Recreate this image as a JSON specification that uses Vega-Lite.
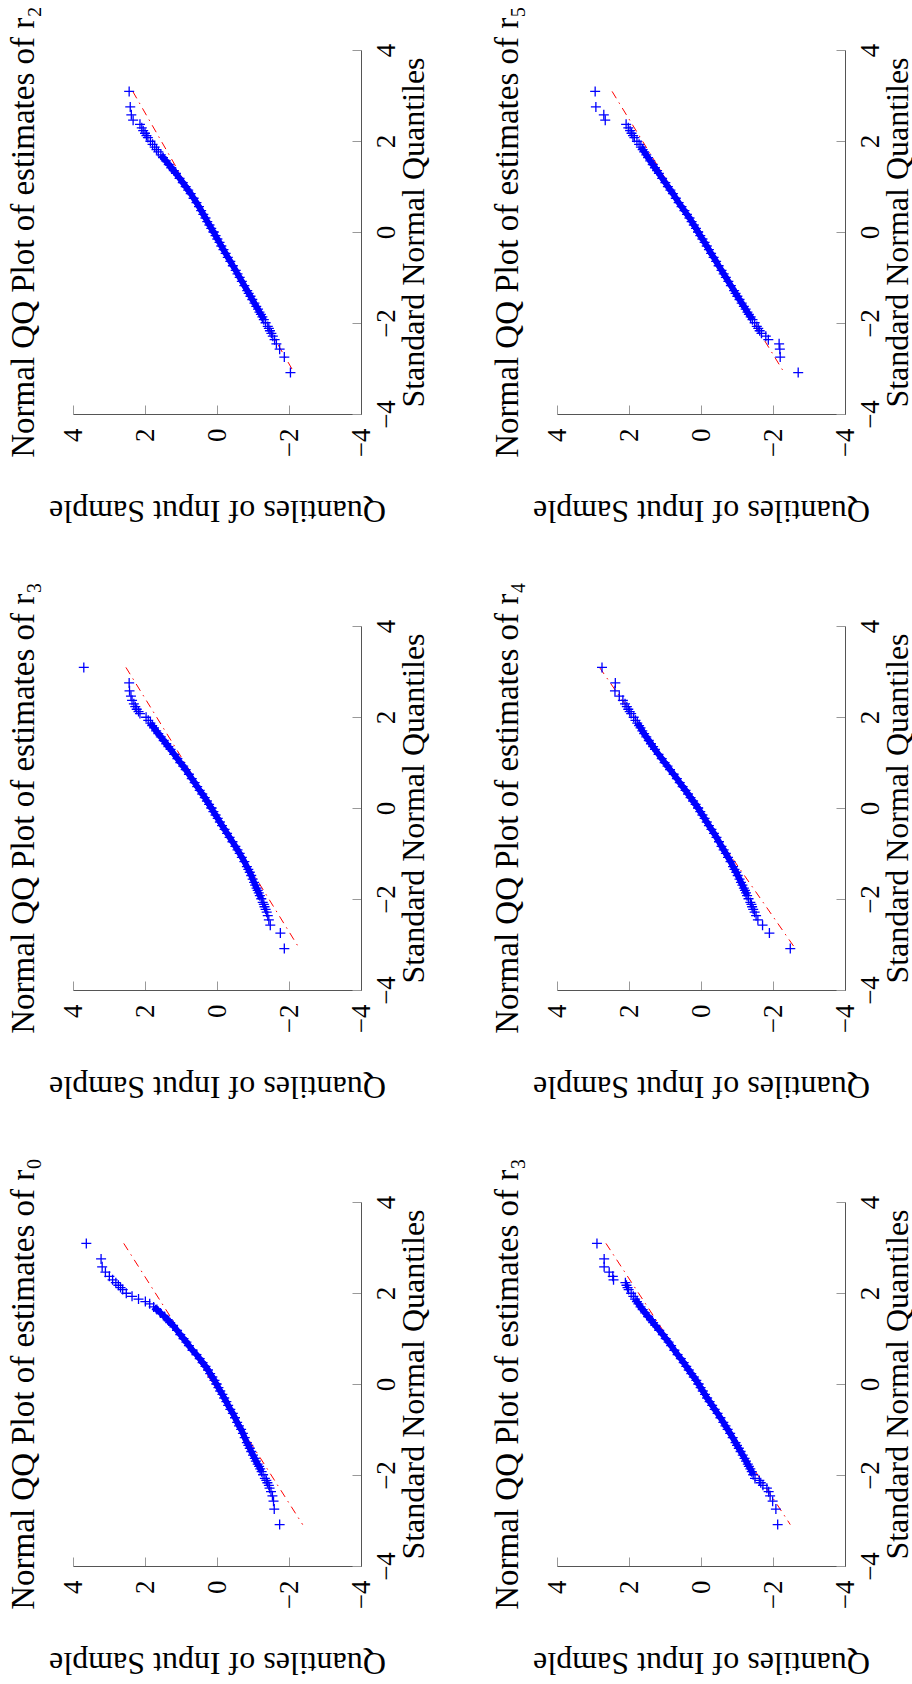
{
"$schema": "https://vega.github.io/schema/vega-lite/v6.json",
"padding": {"left": 7, "top": 6, "right": 4, "bottom": 6},
"background": "#ffffff",
"datasets": {
"ref": [
{"p":"r2","z":-3.09,"s":-2.14},{"p":"r2","z":3.09,"s":2.34},
{"p":"r5","z":-3.09,"s":-2.31},{"p":"r5","z":3.09,"s":2.47},
{"p":"r3","z":-3.09,"s":-2.29},{"p":"r3","z":3.09,"s":2.53},
{"p":"r4","z":-3.09,"s":-2.62},{"p":"r4","z":3.09,"s":2.82},
{"p":"r0","z":-3.09,"s":-2.38},{"p":"r0","z":3.09,"s":2.59},
{"p":"r3b","z":-3.09,"s":-2.48},{"p":"r3b","z":3.09,"s":2.64}
],
"pts": [
{"p":"r2","z":3.09,"s":2.44},{"p":"r2","z":2.748,"s":2.41},{"p":"r2","z":2.576,"s":2.38},{"p":"r2","z":2.457,"s":2.33},{"p":"r2","z":2.366,"s":2.14},{"p":"r2","z":2.29,"s":2.09},{"p":"r2","z":2.226,"s":2.05},{"p":"r2","z":2.17,"s":2.0},{"p":"r2","z":2.12,"s":1.96},{"p":"r2","z":2.075,"s":1.92},{"p":"r2","z":1.995,"s":1.85},{"p":"r2","z":1.927,"s":1.79},{"p":"r2","z":1.866,"s":1.73},{"p":"r2","z":1.812,"s":1.68},{"p":"r2","z":1.762,"s":1.63},{"p":"r2","z":1.695,"s":1.56},{"p":"r2","z":1.635,"s":1.5},{"p":"r2","z":1.563,"s":1.42},{"p":"r2","z":1.483,"s":1.34},{"p":"r2","z":1.412,"s":1.27},{"p":"r2","z":1.347,"s":1.2},{"p":"r2","z":1.287,"s":1.14},{"p":"r2","z":1.18,"s":1.04},{"p":"r2","z":1.085,"s":0.95},{"p":"r2","z":0.999,"s":0.87},{"p":"r2","z":0.919,"s":0.8},{"p":"r2","z":0.845,"s":0.73},{"p":"r2","z":0.742,"s":0.65},{"p":"r2","z":0.646,"s":0.57},{"p":"r2","z":0.556,"s":0.5},{"p":"r2","z":0.47,"s":0.44},{"p":"r2","z":0.388,"s":0.38},{"p":"r2","z":0.308,"s":0.32},{"p":"r2","z":0.23,"s":0.27},{"p":"r2","z":0.154,"s":0.21},{"p":"r2","z":0.078,"s":0.16},{"p":"r2","z":0.003,"s":0.1},
{"p":"r2","z":-0.003,"s":0.09},{"p":"r2","z":-0.078,"s":0.04},{"p":"r2","z":-0.154,"s":-0.01},{"p":"r2","z":-0.23,"s":-0.07},{"p":"r2","z":-0.308,"s":-0.12},{"p":"r2","z":-0.388,"s":-0.18},{"p":"r2","z":-0.47,"s":-0.24},{"p":"r2","z":-0.556,"s":-0.3},{"p":"r2","z":-0.646,"s":-0.37},{"p":"r2","z":-0.742,"s":-0.44},{"p":"r2","z":-0.845,"s":-0.52},{"p":"r2","z":-0.919,"s":-0.57},{"p":"r2","z":-0.999,"s":-0.63},{"p":"r2","z":-1.085,"s":-0.69},{"p":"r2","z":-1.18,"s":-0.76},{"p":"r2","z":-1.287,"s":-0.84},{"p":"r2","z":-1.347,"s":-0.88},{"p":"r2","z":-1.412,"s":-0.93},{"p":"r2","z":-1.483,"s":-0.98},{"p":"r2","z":-1.563,"s":-1.04},{"p":"r2","z":-1.635,"s":-1.09},{"p":"r2","z":-1.695,"s":-1.14},{"p":"r2","z":-1.762,"s":-1.18},{"p":"r2","z":-1.812,"s":-1.22},{"p":"r2","z":-1.866,"s":-1.26},{"p":"r2","z":-1.927,"s":-1.3},{"p":"r2","z":-1.995,"s":-1.35},{"p":"r2","z":-2.075,"s":-1.41},{"p":"r2","z":-2.12,"s":-1.44},{"p":"r2","z":-2.17,"s":-1.47},{"p":"r2","z":-2.226,"s":-1.51},{"p":"r2","z":-2.29,"s":-1.55},{"p":"r2","z":-2.366,"s":-1.6},{"p":"r2","z":-2.457,"s":-1.65},{"p":"r2","z":-2.576,"s":-1.74},{"p":"r2","z":-2.748,"s":-1.87},{"p":"r2","z":-3.09,"s":-2.04},

{"p":"r5","z":3.09,"s":2.94},{"p":"r5","z":2.748,"s":2.92},{"p":"r5","z":2.576,"s":2.7},{"p":"r5","z":2.457,"s":2.66},{"p":"r5","z":2.366,"s":2.08},{"p":"r5","z":2.29,"s":2.02},{"p":"r5","z":2.226,"s":1.97},{"p":"r5","z":2.17,"s":1.93},{"p":"r5","z":2.12,"s":1.89},{"p":"r5","z":2.075,"s":1.85},{"p":"r5","z":1.995,"s":1.78},{"p":"r5","z":1.927,"s":1.72},{"p":"r5","z":1.866,"s":1.67},{"p":"r5","z":1.812,"s":1.62},{"p":"r5","z":1.762,"s":1.58},{"p":"r5","z":1.695,"s":1.52},{"p":"r5","z":1.635,"s":1.47},{"p":"r5","z":1.563,"s":1.41},{"p":"r5","z":1.483,"s":1.34},{"p":"r5","z":1.412,"s":1.28},{"p":"r5","z":1.347,"s":1.22},{"p":"r5","z":1.287,"s":1.17},{"p":"r5","z":1.18,"s":1.08},{"p":"r5","z":1.085,"s":0.99},{"p":"r5","z":0.999,"s":0.92},{"p":"r5","z":0.919,"s":0.85},{"p":"r5","z":0.845,"s":0.78},{"p":"r5","z":0.742,"s":0.7},{"p":"r5","z":0.646,"s":0.62},{"p":"r5","z":0.556,"s":0.54},{"p":"r5","z":0.47,"s":0.46},{"p":"r5","z":0.388,"s":0.39},{"p":"r5","z":0.308,"s":0.32},{"p":"r5","z":0.23,"s":0.26},{"p":"r5","z":0.154,"s":0.2},{"p":"r5","z":0.078,"s":0.14},{"p":"r5","z":0.003,"s":0.08},
{"p":"r5","z":-0.003,"s":0.08},{"p":"r5","z":-0.078,"s":0.02},{"p":"r5","z":-0.154,"s":-0.04},{"p":"r5","z":-0.23,"s":-0.1},{"p":"r5","z":-0.308,"s":-0.16},{"p":"r5","z":-0.388,"s":-0.22},{"p":"r5","z":-0.47,"s":-0.28},{"p":"r5","z":-0.556,"s":-0.35},{"p":"r5","z":-0.646,"s":-0.42},{"p":"r5","z":-0.742,"s":-0.49},{"p":"r5","z":-0.845,"s":-0.57},{"p":"r5","z":-0.919,"s":-0.63},{"p":"r5","z":-0.999,"s":-0.69},{"p":"r5","z":-1.085,"s":-0.76},{"p":"r5","z":-1.18,"s":-0.83},{"p":"r5","z":-1.287,"s":-0.92},{"p":"r5","z":-1.347,"s":-0.96},{"p":"r5","z":-1.412,"s":-1.01},{"p":"r5","z":-1.483,"s":-1.07},{"p":"r5","z":-1.563,"s":-1.13},{"p":"r5","z":-1.635,"s":-1.19},{"p":"r5","z":-1.695,"s":-1.24},{"p":"r5","z":-1.762,"s":-1.29},{"p":"r5","z":-1.812,"s":-1.33},{"p":"r5","z":-1.866,"s":-1.38},{"p":"r5","z":-1.927,"s":-1.43},{"p":"r5","z":-1.995,"s":-1.49},{"p":"r5","z":-2.075,"s":-1.55},{"p":"r5","z":-2.12,"s":-1.59},{"p":"r5","z":-2.17,"s":-1.63},{"p":"r5","z":-2.226,"s":-1.68},{"p":"r5","z":-2.29,"s":-1.8},{"p":"r5","z":-2.366,"s":-1.87},{"p":"r5","z":-2.457,"s":-2.17},{"p":"r5","z":-2.576,"s":-2.19},{"p":"r5","z":-2.748,"s":-2.2},{"p":"r5","z":-3.09,"s":-2.7},

{"p":"r3","z":3.09,"s":3.7},{"p":"r3","z":2.748,"s":2.44},{"p":"r3","z":2.576,"s":2.43},{"p":"r3","z":2.457,"s":2.39},{"p":"r3","z":2.366,"s":2.36},{"p":"r3","z":2.29,"s":2.31},{"p":"r3","z":2.226,"s":2.27},{"p":"r3","z":2.17,"s":2.23},{"p":"r3","z":2.12,"s":2.18},{"p":"r3","z":2.075,"s":2.14},{"p":"r3","z":1.995,"s":1.97},{"p":"r3","z":1.927,"s":1.91},{"p":"r3","z":1.866,"s":1.85},{"p":"r3","z":1.812,"s":1.8},{"p":"r3","z":1.762,"s":1.75},{"p":"r3","z":1.695,"s":1.69},{"p":"r3","z":1.635,"s":1.63},{"p":"r3","z":1.563,"s":1.56},{"p":"r3","z":1.483,"s":1.48},{"p":"r3","z":1.412,"s":1.41},{"p":"r3","z":1.347,"s":1.35},{"p":"r3","z":1.287,"s":1.29},{"p":"r3","z":1.18,"s":1.19},{"p":"r3","z":1.085,"s":1.1},{"p":"r3","z":0.999,"s":1.02},{"p":"r3","z":0.919,"s":0.94},{"p":"r3","z":0.845,"s":0.87},{"p":"r3","z":0.742,"s":0.78},{"p":"r3","z":0.646,"s":0.7},{"p":"r3","z":0.556,"s":0.62},{"p":"r3","z":0.47,"s":0.55},{"p":"r3","z":0.388,"s":0.48},{"p":"r3","z":0.308,"s":0.41},{"p":"r3","z":0.23,"s":0.34},{"p":"r3","z":0.154,"s":0.28},{"p":"r3","z":0.078,"s":0.22},{"p":"r3","z":0.003,"s":0.16},
{"p":"r3","z":-0.003,"s":0.15},{"p":"r3","z":-0.078,"s":0.1},{"p":"r3","z":-0.154,"s":0.04},{"p":"r3","z":-0.23,"s":-0.02},{"p":"r3","z":-0.308,"s":-0.08},{"p":"r3","z":-0.388,"s":-0.14},{"p":"r3","z":-0.47,"s":-0.21},{"p":"r3","z":-0.556,"s":-0.28},{"p":"r3","z":-0.646,"s":-0.35},{"p":"r3","z":-0.742,"s":-0.43},{"p":"r3","z":-0.845,"s":-0.51},{"p":"r3","z":-0.919,"s":-0.57},{"p":"r3","z":-0.999,"s":-0.63},{"p":"r3","z":-1.085,"s":-0.69},{"p":"r3","z":-1.18,"s":-0.76},{"p":"r3","z":-1.287,"s":-0.83},{"p":"r3","z":-1.347,"s":-0.87},{"p":"r3","z":-1.412,"s":-0.91},{"p":"r3","z":-1.483,"s":-0.95},{"p":"r3","z":-1.563,"s":-0.99},{"p":"r3","z":-1.635,"s":-1.03},{"p":"r3","z":-1.695,"s":-1.06},{"p":"r3","z":-1.762,"s":-1.1},{"p":"r3","z":-1.812,"s":-1.13},{"p":"r3","z":-1.866,"s":-1.16},{"p":"r3","z":-1.927,"s":-1.19},{"p":"r3","z":-1.995,"s":-1.23},{"p":"r3","z":-2.075,"s":-1.27},{"p":"r3","z":-2.12,"s":-1.3},{"p":"r3","z":-2.17,"s":-1.32},{"p":"r3","z":-2.226,"s":-1.35},{"p":"r3","z":-2.29,"s":-1.38},{"p":"r3","z":-2.366,"s":-1.41},{"p":"r3","z":-2.457,"s":-1.44},{"p":"r3","z":-2.576,"s":-1.48},{"p":"r3","z":-2.748,"s":-1.76},{"p":"r3","z":-3.09,"s":-1.87},

{"p":"r4","z":3.09,"s":2.75},{"p":"r4","z":2.748,"s":2.38},{"p":"r4","z":2.576,"s":2.39},{"p":"r4","z":2.457,"s":2.27},{"p":"r4","z":2.366,"s":2.17},{"p":"r4","z":2.29,"s":2.11},{"p":"r4","z":2.226,"s":2.06},{"p":"r4","z":2.17,"s":2.02},{"p":"r4","z":2.12,"s":1.98},{"p":"r4","z":2.075,"s":1.94},{"p":"r4","z":1.995,"s":1.87},{"p":"r4","z":1.927,"s":1.82},{"p":"r4","z":1.866,"s":1.77},{"p":"r4","z":1.812,"s":1.72},{"p":"r4","z":1.762,"s":1.68},{"p":"r4","z":1.695,"s":1.63},{"p":"r4","z":1.635,"s":1.58},{"p":"r4","z":1.563,"s":1.52},{"p":"r4","z":1.483,"s":1.45},{"p":"r4","z":1.412,"s":1.39},{"p":"r4","z":1.347,"s":1.33},{"p":"r4","z":1.287,"s":1.28},{"p":"r4","z":1.18,"s":1.18},{"p":"r4","z":1.085,"s":1.09},{"p":"r4","z":0.999,"s":1.01},{"p":"r4","z":0.919,"s":0.93},{"p":"r4","z":0.845,"s":0.86},{"p":"r4","z":0.742,"s":0.76},{"p":"r4","z":0.646,"s":0.67},{"p":"r4","z":0.556,"s":0.59},{"p":"r4","z":0.47,"s":0.51},{"p":"r4","z":0.388,"s":0.43},{"p":"r4","z":0.308,"s":0.36},{"p":"r4","z":0.23,"s":0.29},{"p":"r4","z":0.154,"s":0.22},{"p":"r4","z":0.078,"s":0.15},{"p":"r4","z":0.003,"s":0.08},
{"p":"r4","z":-0.003,"s":0.08},{"p":"r4","z":-0.078,"s":0.02},{"p":"r4","z":-0.154,"s":-0.04},{"p":"r4","z":-0.23,"s":-0.1},{"p":"r4","z":-0.308,"s":-0.16},{"p":"r4","z":-0.388,"s":-0.22},{"p":"r4","z":-0.47,"s":-0.29},{"p":"r4","z":-0.556,"s":-0.36},{"p":"r4","z":-0.646,"s":-0.43},{"p":"r4","z":-0.742,"s":-0.5},{"p":"r4","z":-0.845,"s":-0.57},{"p":"r4","z":-0.919,"s":-0.63},{"p":"r4","z":-0.999,"s":-0.69},{"p":"r4","z":-1.085,"s":-0.75},{"p":"r4","z":-1.18,"s":-0.82},{"p":"r4","z":-1.287,"s":-0.89},{"p":"r4","z":-1.347,"s":-0.93},{"p":"r4","z":-1.412,"s":-0.98},{"p":"r4","z":-1.483,"s":-1.02},{"p":"r4","z":-1.563,"s":-1.07},{"p":"r4","z":-1.635,"s":-1.11},{"p":"r4","z":-1.695,"s":-1.15},{"p":"r4","z":-1.762,"s":-1.19},{"p":"r4","z":-1.812,"s":-1.22},{"p":"r4","z":-1.866,"s":-1.25},{"p":"r4","z":-1.927,"s":-1.28},{"p":"r4","z":-1.995,"s":-1.32},{"p":"r4","z":-2.075,"s":-1.37},{"p":"r4","z":-2.12,"s":-1.4},{"p":"r4","z":-2.17,"s":-1.42},{"p":"r4","z":-2.226,"s":-1.45},{"p":"r4","z":-2.29,"s":-1.49},{"p":"r4","z":-2.366,"s":-1.53},{"p":"r4","z":-2.457,"s":-1.58},{"p":"r4","z":-2.576,"s":-1.71},{"p":"r4","z":-2.748,"s":-1.9},{"p":"r4","z":-3.09,"s":-2.48},

{"p":"r0","z":3.09,"s":3.63},{"p":"r0","z":2.748,"s":3.22},{"p":"r0","z":2.576,"s":3.19},{"p":"r0","z":2.457,"s":3.1},{"p":"r0","z":2.366,"s":2.99},{"p":"r0","z":2.29,"s":2.9},{"p":"r0","z":2.226,"s":2.81},{"p":"r0","z":2.17,"s":2.74},{"p":"r0","z":2.12,"s":2.68},{"p":"r0","z":2.075,"s":2.62},{"p":"r0","z":1.995,"s":2.52},{"p":"r0","z":1.927,"s":2.36},{"p":"r0","z":1.866,"s":2.18},{"p":"r0","z":1.812,"s":1.99},{"p":"r0","z":1.762,"s":1.87},{"p":"r0","z":1.695,"s":1.76},{"p":"r0","z":1.635,"s":1.67},{"p":"r0","z":1.563,"s":1.57},{"p":"r0","z":1.483,"s":1.46},{"p":"r0","z":1.412,"s":1.37},{"p":"r0","z":1.347,"s":1.3},{"p":"r0","z":1.287,"s":1.22},{"p":"r0","z":1.18,"s":1.11},{"p":"r0","z":1.085,"s":1.02},{"p":"r0","z":0.999,"s":0.93},{"p":"r0","z":0.919,"s":0.85},{"p":"r0","z":0.845,"s":0.78},{"p":"r0","z":0.742,"s":0.68},{"p":"r0","z":0.646,"s":0.57},{"p":"r0","z":0.556,"s":0.48},{"p":"r0","z":0.47,"s":0.4},{"p":"r0","z":0.388,"s":0.32},{"p":"r0","z":0.308,"s":0.25},{"p":"r0","z":0.23,"s":0.19},{"p":"r0","z":0.154,"s":0.13},{"p":"r0","z":0.078,"s":0.07},{"p":"r0","z":0.003,"s":0.02},
{"p":"r0","z":-0.003,"s":0.01},{"p":"r0","z":-0.078,"s":-0.04},{"p":"r0","z":-0.154,"s":-0.09},{"p":"r0","z":-0.23,"s":-0.15},{"p":"r0","z":-0.308,"s":-0.2},{"p":"r0","z":-0.388,"s":-0.26},{"p":"r0","z":-0.47,"s":-0.31},{"p":"r0","z":-0.556,"s":-0.37},{"p":"r0","z":-0.646,"s":-0.44},{"p":"r0","z":-0.742,"s":-0.5},{"p":"r0","z":-0.845,"s":-0.56},{"p":"r0","z":-0.919,"s":-0.61},{"p":"r0","z":-0.999,"s":-0.67},{"p":"r0","z":-1.085,"s":-0.72},{"p":"r0","z":-1.18,"s":-0.77},{"p":"r0","z":-1.287,"s":-0.83},{"p":"r0","z":-1.347,"s":-0.87},{"p":"r0","z":-1.412,"s":-0.91},{"p":"r0","z":-1.483,"s":-0.95},{"p":"r0","z":-1.563,"s":-1.0},{"p":"r0","z":-1.635,"s":-1.05},{"p":"r0","z":-1.695,"s":-1.08},{"p":"r0","z":-1.762,"s":-1.13},{"p":"r0","z":-1.812,"s":-1.17},{"p":"r0","z":-1.866,"s":-1.2},{"p":"r0","z":-1.927,"s":-1.24},{"p":"r0","z":-1.995,"s":-1.28},{"p":"r0","z":-2.075,"s":-1.33},{"p":"r0","z":-2.12,"s":-1.37},{"p":"r0","z":-2.17,"s":-1.4},{"p":"r0","z":-2.226,"s":-1.44},{"p":"r0","z":-2.29,"s":-1.46},{"p":"r0","z":-2.366,"s":-1.5},{"p":"r0","z":-2.457,"s":-1.54},{"p":"r0","z":-2.576,"s":-1.57},{"p":"r0","z":-2.748,"s":-1.59},{"p":"r0","z":-3.09,"s":-1.74},

{"p":"r3b","z":3.09,"s":2.89},{"p":"r3b","z":2.748,"s":2.69},{"p":"r3b","z":2.576,"s":2.69},{"p":"r3b","z":2.457,"s":2.55},{"p":"r3b","z":2.366,"s":2.45},{"p":"r3b","z":2.29,"s":2.43},{"p":"r3b","z":2.226,"s":2.1},{"p":"r3b","z":2.17,"s":2.07},{"p":"r3b","z":2.12,"s":2.04},{"p":"r3b","z":2.075,"s":2.01},{"p":"r3b","z":1.995,"s":1.94},{"p":"r3b","z":1.927,"s":1.88},{"p":"r3b","z":1.866,"s":1.83},{"p":"r3b","z":1.812,"s":1.78},{"p":"r3b","z":1.762,"s":1.74},{"p":"r3b","z":1.695,"s":1.68},{"p":"r3b","z":1.635,"s":1.62},{"p":"r3b","z":1.563,"s":1.55},{"p":"r3b","z":1.483,"s":1.47},{"p":"r3b","z":1.412,"s":1.39},{"p":"r3b","z":1.347,"s":1.33},{"p":"r3b","z":1.287,"s":1.27},{"p":"r3b","z":1.18,"s":1.16},{"p":"r3b","z":1.085,"s":1.06},{"p":"r3b","z":0.999,"s":0.98},{"p":"r3b","z":0.919,"s":0.9},{"p":"r3b","z":0.845,"s":0.83},{"p":"r3b","z":0.742,"s":0.74},{"p":"r3b","z":0.646,"s":0.65},{"p":"r3b","z":0.556,"s":0.56},{"p":"r3b","z":0.47,"s":0.48},{"p":"r3b","z":0.388,"s":0.41},{"p":"r3b","z":0.308,"s":0.34},{"p":"r3b","z":0.23,"s":0.27},{"p":"r3b","z":0.154,"s":0.2},{"p":"r3b","z":0.078,"s":0.13},{"p":"r3b","z":0.003,"s":0.07},
{"p":"r3b","z":-0.003,"s":0.07},{"p":"r3b","z":-0.078,"s":0.01},{"p":"r3b","z":-0.154,"s":-0.05},{"p":"r3b","z":-0.23,"s":-0.11},{"p":"r3b","z":-0.308,"s":-0.17},{"p":"r3b","z":-0.388,"s":-0.24},{"p":"r3b","z":-0.47,"s":-0.31},{"p":"r3b","z":-0.556,"s":-0.38},{"p":"r3b","z":-0.646,"s":-0.46},{"p":"r3b","z":-0.742,"s":-0.54},{"p":"r3b","z":-0.845,"s":-0.62},{"p":"r3b","z":-0.919,"s":-0.68},{"p":"r3b","z":-0.999,"s":-0.74},{"p":"r3b","z":-1.085,"s":-0.81},{"p":"r3b","z":-1.18,"s":-0.88},{"p":"r3b","z":-1.287,"s":-0.96},{"p":"r3b","z":-1.347,"s":-1.0},{"p":"r3b","z":-1.412,"s":-1.05},{"p":"r3b","z":-1.483,"s":-1.1},{"p":"r3b","z":-1.563,"s":-1.16},{"p":"r3b","z":-1.635,"s":-1.21},{"p":"r3b","z":-1.695,"s":-1.25},{"p":"r3b","z":-1.762,"s":-1.3},{"p":"r3b","z":-1.812,"s":-1.33},{"p":"r3b","z":-1.866,"s":-1.37},{"p":"r3b","z":-1.927,"s":-1.41},{"p":"r3b","z":-1.995,"s":-1.45},{"p":"r3b","z":-2.075,"s":-1.5},{"p":"r3b","z":-2.12,"s":-1.62},{"p":"r3b","z":-2.17,"s":-1.66},{"p":"r3b","z":-2.226,"s":-1.72},{"p":"r3b","z":-2.29,"s":-1.83},{"p":"r3b","z":-2.366,"s":-1.88},{"p":"r3b","z":-2.457,"s":-1.92},{"p":"r3b","z":-2.576,"s":-1.99},{"p":"r3b","z":-2.748,"s":-2.08},{"p":"r3b","z":-3.09,"s":-2.13}
]
},
"columns": 2,
"spacing": {"row": 212, "column": 196},
"bounds": "flush",
"concat": [
{"title": "Normal QQ Plot of estimates of r₂", "width": 288, "height": 364, "layer": [
 {"data": {"name": "ref"}, "transform": [{"filter": "datum.p === 'r2'"}], "mark": {"type": "line", "color": "#ff0000", "strokeWidth": 1, "strokeDash": [8, 5, 1.5, 5]}, "encoding": {"x": {"field": "s", "type": "quantitative", "scale": {"domain": [-4, 4], "reverse": true, "nice": false, "zero": false}, "axis": {"title": "Quantiles of Input Sample", "orient": "bottom"}}, "y": {"field": "z", "type": "quantitative", "scale": {"domain": [-4, 4], "nice": false, "zero": false}, "axis": {"title": "Standard Normal Quantiles", "orient": "right"}}}},
 {"data": {"name": "pts"}, "transform": [{"filter": "datum.p === 'r2' && datum.z > -1.95 && datum.z < 1.75"}], "mark": {"type": "line", "color": "#0000ff", "strokeWidth": 6, "strokeCap": "butt"}, "encoding": {"x": {"field": "s", "type": "quantitative"}, "y": {"field": "z", "type": "quantitative"}, "order": {"field": "z", "type": "quantitative"}}},
 {"data": {"name": "pts"}, "transform": [{"filter": "datum.p === 'r2'"}], "mark": {"type": "point", "shape": "M-1,0L1,0M0,-1L0,1", "filled": false, "stroke": "#0000ff", "strokeWidth": 1.3, "size": 100, "opacity": 1}, "encoding": {"x": {"field": "s", "type": "quantitative"}, "y": {"field": "z", "type": "quantitative"}}}
]},
{"title": "Normal QQ Plot of estimates of r₅", "width": 288, "height": 364, "layer": [
 {"data": {"name": "ref"}, "transform": [{"filter": "datum.p === 'r5'"}], "mark": {"type": "line", "color": "#ff0000", "strokeWidth": 1, "strokeDash": [8, 5, 1.5, 5]}, "encoding": {"x": {"field": "s", "type": "quantitative", "scale": {"domain": [-4, 4], "reverse": true, "nice": false, "zero": false}, "axis": {"title": "Quantiles of Input Sample", "orient": "bottom"}}, "y": {"field": "z", "type": "quantitative", "scale": {"domain": [-4, 4], "nice": false, "zero": false}, "axis": {"title": "Standard Normal Quantiles", "orient": "right"}}}},
 {"data": {"name": "pts"}, "transform": [{"filter": "datum.p === 'r5' && datum.z > -1.95 && datum.z < 1.9"}], "mark": {"type": "line", "color": "#0000ff", "strokeWidth": 6, "strokeCap": "butt"}, "encoding": {"x": {"field": "s", "type": "quantitative"}, "y": {"field": "z", "type": "quantitative"}, "order": {"field": "z", "type": "quantitative"}}},
 {"data": {"name": "pts"}, "transform": [{"filter": "datum.p === 'r5'"}], "mark": {"type": "point", "shape": "M-1,0L1,0M0,-1L0,1", "filled": false, "stroke": "#0000ff", "strokeWidth": 1.3, "size": 100, "opacity": 1}, "encoding": {"x": {"field": "s", "type": "quantitative"}, "y": {"field": "z", "type": "quantitative"}}}
]},
{"title": "Normal QQ Plot of estimates of r₃", "width": 288, "height": 364, "layer": [
 {"data": {"name": "ref"}, "transform": [{"filter": "datum.p === 'r3'"}], "mark": {"type": "line", "color": "#ff0000", "strokeWidth": 1, "strokeDash": [8, 5, 1.5, 5]}, "encoding": {"x": {"field": "s", "type": "quantitative", "scale": {"domain": [-4, 4], "reverse": true, "nice": false, "zero": false}, "axis": {"title": "Quantiles of Input Sample", "orient": "bottom"}}, "y": {"field": "z", "type": "quantitative", "scale": {"domain": [-4, 4], "nice": false, "zero": false}, "axis": {"title": "Standard Normal Quantiles", "orient": "right"}}}},
 {"data": {"name": "pts"}, "transform": [{"filter": "datum.p === 'r3' && datum.z > -2.0 && datum.z < 1.9"}], "mark": {"type": "line", "color": "#0000ff", "strokeWidth": 6, "strokeCap": "butt"}, "encoding": {"x": {"field": "s", "type": "quantitative"}, "y": {"field": "z", "type": "quantitative"}, "order": {"field": "z", "type": "quantitative"}}},
 {"data": {"name": "pts"}, "transform": [{"filter": "datum.p === 'r3'"}], "mark": {"type": "point", "shape": "M-1,0L1,0M0,-1L0,1", "filled": false, "stroke": "#0000ff", "strokeWidth": 1.3, "size": 100, "opacity": 1}, "encoding": {"x": {"field": "s", "type": "quantitative"}, "y": {"field": "z", "type": "quantitative"}}}
]},
{"title": "Normal QQ Plot of estimates of r₄", "width": 288, "height": 364, "layer": [
 {"data": {"name": "ref"}, "transform": [{"filter": "datum.p === 'r4'"}], "mark": {"type": "line", "color": "#ff0000", "strokeWidth": 1, "strokeDash": [8, 5, 1.5, 5]}, "encoding": {"x": {"field": "s", "type": "quantitative", "scale": {"domain": [-4, 4], "reverse": true, "nice": false, "zero": false}, "axis": {"title": "Quantiles of Input Sample", "orient": "bottom"}}, "y": {"field": "z", "type": "quantitative", "scale": {"domain": [-4, 4], "nice": false, "zero": false}, "axis": {"title": "Standard Normal Quantiles", "orient": "right"}}}},
 {"data": {"name": "pts"}, "transform": [{"filter": "datum.p === 'r4' && datum.z > -1.95 && datum.z < 1.9"}], "mark": {"type": "line", "color": "#0000ff", "strokeWidth": 6, "strokeCap": "butt"}, "encoding": {"x": {"field": "s", "type": "quantitative"}, "y": {"field": "z", "type": "quantitative"}, "order": {"field": "z", "type": "quantitative"}}},
 {"data": {"name": "pts"}, "transform": [{"filter": "datum.p === 'r4'"}], "mark": {"type": "point", "shape": "M-1,0L1,0M0,-1L0,1", "filled": false, "stroke": "#0000ff", "strokeWidth": 1.3, "size": 100, "opacity": 1}, "encoding": {"x": {"field": "s", "type": "quantitative"}, "y": {"field": "z", "type": "quantitative"}}}
]},
{"title": "Normal QQ Plot of estimates of r₀", "width": 288, "height": 364, "layer": [
 {"data": {"name": "ref"}, "transform": [{"filter": "datum.p === 'r0'"}], "mark": {"type": "line", "color": "#ff0000", "strokeWidth": 1, "strokeDash": [8, 5, 1.5, 5]}, "encoding": {"x": {"field": "s", "type": "quantitative", "scale": {"domain": [-4, 4], "reverse": true, "nice": false, "zero": false}, "axis": {"title": "Quantiles of Input Sample", "orient": "bottom"}}, "y": {"field": "z", "type": "quantitative", "scale": {"domain": [-4, 4], "nice": false, "zero": false}, "axis": {"title": "Standard Normal Quantiles", "orient": "right"}}}},
 {"data": {"name": "pts"}, "transform": [{"filter": "datum.p === 'r0' && datum.z > -1.95 && datum.z < 1.75"}], "mark": {"type": "line", "color": "#0000ff", "strokeWidth": 6, "strokeCap": "butt"}, "encoding": {"x": {"field": "s", "type": "quantitative"}, "y": {"field": "z", "type": "quantitative"}, "order": {"field": "z", "type": "quantitative"}}},
 {"data": {"name": "pts"}, "transform": [{"filter": "datum.p === 'r0'"}], "mark": {"type": "point", "shape": "M-1,0L1,0M0,-1L0,1", "filled": false, "stroke": "#0000ff", "strokeWidth": 1.3, "size": 100, "opacity": 1}, "encoding": {"x": {"field": "s", "type": "quantitative"}, "y": {"field": "z", "type": "quantitative"}}}
]},
{"title": "Normal QQ Plot of estimates of r₃", "width": 288, "height": 364, "layer": [
 {"data": {"name": "ref"}, "transform": [{"filter": "datum.p === 'r3b'"}], "mark": {"type": "line", "color": "#ff0000", "strokeWidth": 1, "strokeDash": [8, 5, 1.5, 5]}, "encoding": {"x": {"field": "s", "type": "quantitative", "scale": {"domain": [-4, 4], "reverse": true, "nice": false, "zero": false}, "axis": {"title": "Quantiles of Input Sample", "orient": "bottom"}}, "y": {"field": "z", "type": "quantitative", "scale": {"domain": [-4, 4], "nice": false, "zero": false}, "axis": {"title": "Standard Normal Quantiles", "orient": "right"}}}},
 {"data": {"name": "pts"}, "transform": [{"filter": "datum.p === 'r3b' && datum.z > -2.0 && datum.z < 1.9"}], "mark": {"type": "line", "color": "#0000ff", "strokeWidth": 6, "strokeCap": "butt"}, "encoding": {"x": {"field": "s", "type": "quantitative"}, "y": {"field": "z", "type": "quantitative"}, "order": {"field": "z", "type": "quantitative"}}},
 {"data": {"name": "pts"}, "transform": [{"filter": "datum.p === 'r3b'"}], "mark": {"type": "point", "shape": "M-1,0L1,0M0,-1L0,1", "filled": false, "stroke": "#0000ff", "strokeWidth": 1.3, "size": 100, "opacity": 1}, "encoding": {"x": {"field": "s", "type": "quantitative"}, "y": {"field": "z", "type": "quantitative"}}}
]}
],
"config": {
 "view": {"stroke": null},
 "font": "Liberation Serif",
 "title": {"font": "Liberation Serif", "fontSize": 33, "fontWeight": "normal", "color": "#000000", "orient": "left", "frame": "group", "anchor": "middle", "offset": 8},
 "axis": {"grid": false, "domainColor": "#555555", "domainWidth": 1, "tickColor": "#999999", "tickWidth": 1, "tickSize": -9, "tickCount": 5, "labelFont": "Liberation Serif", "labelFontSize": 27, "labelColor": "#000000", "labelFlush": false, "labelOverlap": false, "titleFont": "Liberation Serif", "titleFontSize": 32, "titleFontWeight": "normal", "titleColor": "#000000"},
 "axisX": {"labelAngle": 270, "labelAlign": "right", "labelBaseline": "middle", "labelPadding": 23, "titleAngle": 180, "titleY": 86, "titleBaseline": "alphabetic", "titleAlign": "center"},
 "axisY": {"labelAngle": 270, "labelAlign": "center", "labelBaseline": "top", "labelPadding": 21, "titleAngle": 270, "titleX": 62, "titleBaseline": "alphabetic", "titleAlign": "center"}
}
}
